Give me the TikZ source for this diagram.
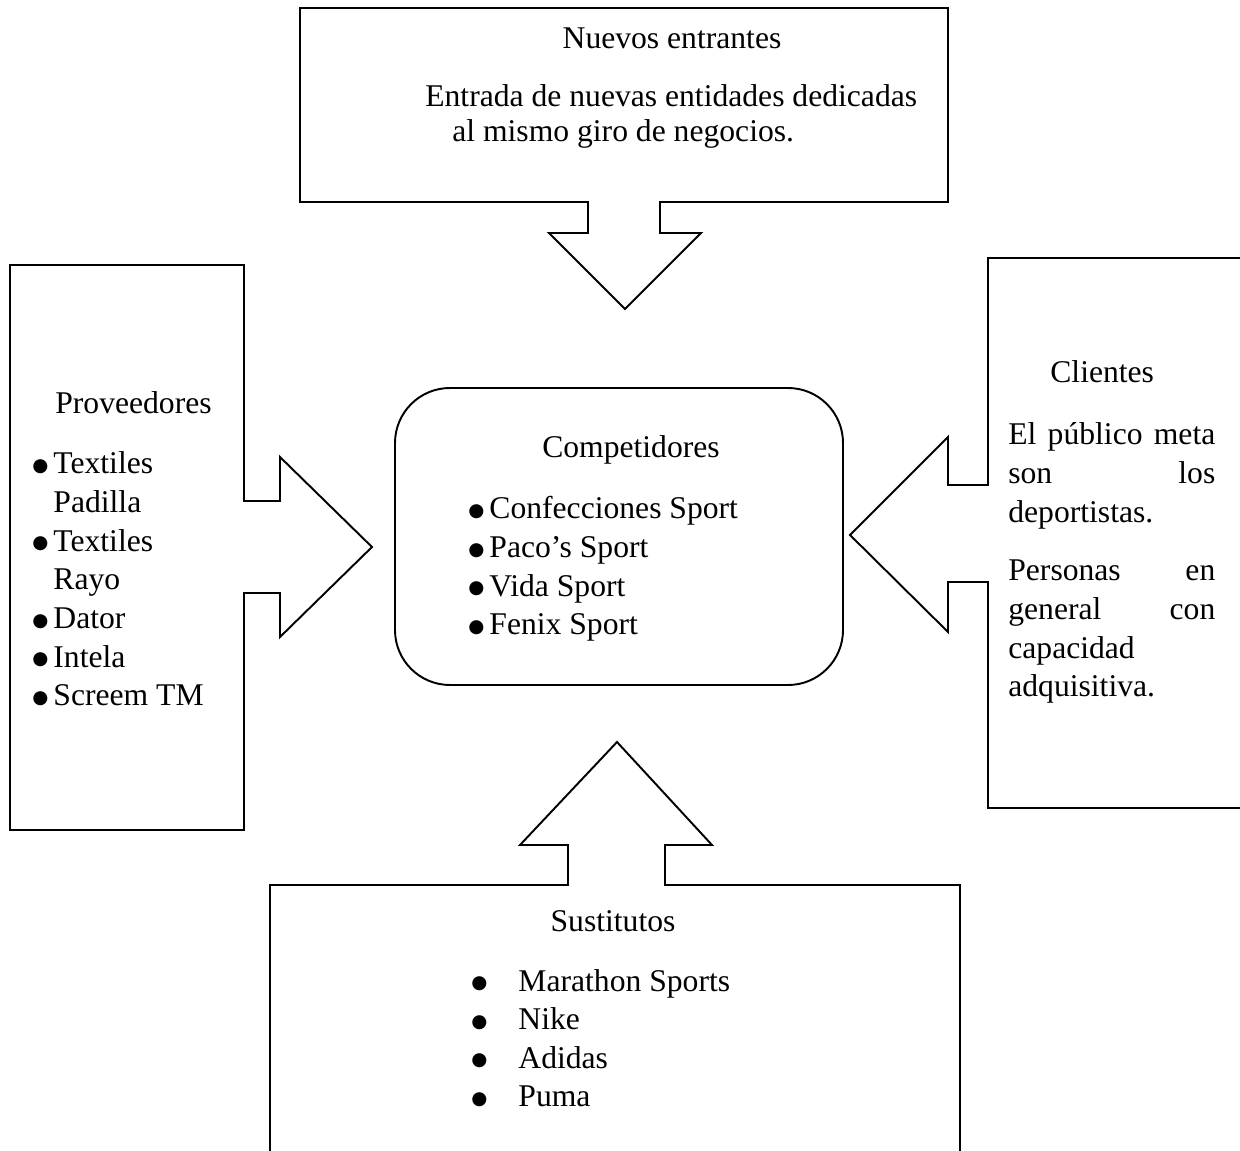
\documentclass[tikz,border=0pt]{standalone}
\usepackage{fontspec}
\setmainfont{Liberation Serif}
\newfontfamily\dotfont{DejaVu Sans}
\usetikzlibrary{positioning}

\newcommand\bul{\raisebox{1.4pt}{\dotfont\fontsize{10.5}{12}\selectfont ●}}

\tikzset{
	outline/.style={draw,line width=1.1pt,line join=miter},
	txt/.style={inner sep=0pt,font=\fontsize{18}{22}\selectfont},
}

\begin{document}
\begin{tikzpicture}[x=0.02cm,y=-0.02cm]
			\useasboundingbox (0,0) rectangle (1240,1151);
			\clip (0,0) rectangle (1240,1151);
			% Nuevos entrantes (top box with arrow down)
			\draw[outline] (300,8) -- (948,8) -- (948,202) -- (660,202) -- (660,233) -- (701,233) -- (625,309) -- (549,233) -- (588,233) -- (588,202) -- (300,202) -- cycle;
			\node[txt,anchor=base] (nuevos) at (672,49) {Nuevos entrantes};
			\node[txt,anchor=base west] (entrada) at (425,107) {Entrada de nuevas entidades dedicadas};
			\node[txt,anchor=base west] (giro) at (452,142) {al mismo giro de negocios.};
			% Proveedores (left box with arrow right)
			\draw[outline] (10,265) -- (244,265) -- (244,501) -- (280,501) -- (280,457) -- (372,547) -- (280,637) -- (280,593) -- (244,593) -- (244,830) -- (10,830) -- cycle;
			\node[txt,anchor=base west] (prov) at (55,414) {Proveedores};
			\node[txt,anchor=base west] (provlist) at (32,474) {\begin{tabular}[t]{@{}l@{\hspace{0.1cm}}l@{}}
				\bul & Textiles\\ & Padilla\\
				\bul & Textiles\\ & Rayo\\
				\bul & Dator\\
				\bul & Intela\\
				\bul & Screem TM
			\end{tabular}};
			% Competidores (center)
			\draw[outline,rounded corners=1.1cm] (395,388) rectangle (843,685);
			\node[txt,anchor=base] (comp) at (631,458) {Competidores};
			\node[txt,anchor=base west] (complist) at (468,519) {\begin{tabular}[t]{@{}l@{\hspace{0.1cm}}l@{}}
				\bul & Confecciones Sport\\
				\bul & Paco’s Sport\\
				\bul & Vida Sport\\
				\bul & Fenix Sport
			\end{tabular}};
			% Clientes (right box with arrow left)
			\draw[outline] (1250,258) -- (988,258) -- (988,485) -- (948,485) -- (948,437) -- (850,535) -- (948,632) -- (948,582) -- (988,582) -- (988,808) -- (1250,808);
			\node[txt,anchor=base west] (clientes) at (1050,383) {Clientes};
			\node[txt,anchor=base west] (clitext) at (1008,445) {\begin{minipage}[t]{4.14cm}
				\tolerance=10000\hyphenpenalty=10000
				El público meta\linebreak son los\linebreak deportistas.\par\vspace{0.4cm}
				Personas en\linebreak general con\linebreak capacidad\linebreak adquisitiva.
			\end{minipage}};
			% Sustitutos (bottom box with arrow up)
			\draw[outline] (270,1160) -- (270,885) -- (568,885) -- (568,845) -- (520,845) -- (617,742) -- (712,845) -- (665,845) -- (665,885) -- (960,885) -- (960,1160);
			\node[txt,anchor=base] (sust) at (613,931) {Sustitutos};
			\node[txt,anchor=base west] (sustlist) at (471,991) {\begin{tabular}[t]{@{}l@{\hspace{0.62cm}}l@{}}
				\bul & Marathon Sports\\
				\bul & Nike\\
				\bul & Adidas\\
				\bul & Puma
			\end{tabular}};
		\end{tikzpicture}
\end{document}
